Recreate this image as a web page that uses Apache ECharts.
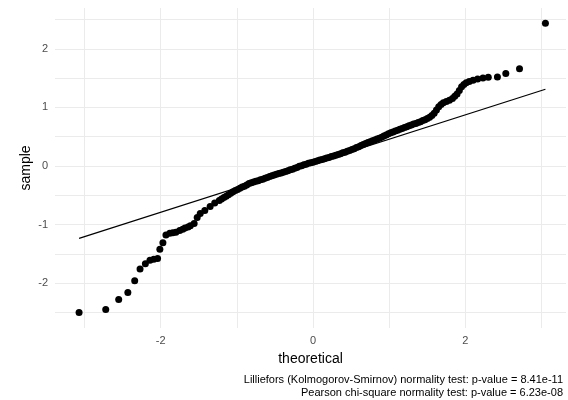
<!DOCTYPE html>
<html>
<head>
<meta charset="utf-8">
<script src="https://cdn.jsdelivr.net/npm/echarts@6/dist/echarts.min.js"></script>
<style>
  html, body { margin: 0; padding: 0; background: #fff; }
  #chart { width: 568px; height: 400px; }
</style>
</head>
<body>
<div id="chart"></div>
<script>
// theoretical quantiles (x) and sample values (y)
const theoretical = [
  -3.07, -2.72, -2.55, -2.43, -2.34, -2.27, -2.20, -2.14, -2.09, -2.04,
  -2.01, -1.97, -1.93, -1.88, -1.84, -1.80, -1.75, -1.71, -1.68, -1.64,
  -1.61, -1.56, -1.52, -1.48, -1.42, -1.35, -1.29,
  -1.23, -1.20, -1.17, -1.14, -1.11, -1.08, -1.05, -1.02, -0.99, -0.96,
  -0.93, -0.90, -0.87, -0.84, -0.81, -0.78, -0.75, -0.72, -0.69, -0.66,
  -0.63, -0.60, -0.57, -0.54, -0.51, -0.48, -0.45, -0.42, -0.39, -0.36,
  -0.33, -0.30, -0.27, -0.24, -0.21, -0.18, -0.15, -0.12, -0.09, -0.06,
  -0.03, 0.00, 0.03, 0.06, 0.09, 0.12, 0.15, 0.18, 0.21, 0.24,
  0.27, 0.30, 0.33, 0.36, 0.39, 0.42, 0.45, 0.48, 0.51, 0.54,
  0.57, 0.60, 0.63, 0.66, 0.69, 0.72, 0.75, 0.78, 0.81, 0.84,
  0.87, 0.90, 0.93, 0.96, 0.99, 1.02, 1.05, 1.08, 1.11, 1.14,
  1.17, 1.20, 1.23, 1.26, 1.29, 1.32, 1.35, 1.38, 1.41, 1.44,
  1.47, 1.50, 1.53,
  1.56, 1.59, 1.62, 1.65, 1.68, 1.71, 1.75, 1.79, 1.83, 1.86,
  1.89, 1.92, 1.95, 1.98, 2.01, 2.05, 2.10, 2.16, 2.23, 2.30,
  2.42, 2.53, 2.71, 3.05
];
const sample = [
  -2.50, -2.45, -2.28, -2.16, -1.96, -1.76, -1.67, -1.61, -1.59, -1.58,
  -1.42, -1.31, -1.18, -1.15, -1.14, -1.13, -1.10, -1.08, -1.06, -1.04,
  -1.02, -0.98, -0.88, -0.81, -0.76, -0.69, -0.63,
  -0.59, -0.565, -0.54, -0.515, -0.49, -0.465, -0.44, -0.42, -0.40, -0.38,
  -0.36, -0.345, -0.325, -0.30, -0.285, -0.275, -0.26, -0.25, -0.235, -0.225,
  -0.21, -0.195, -0.18, -0.165, -0.155, -0.14, -0.13, -0.12, -0.108, -0.095,
  -0.08, -0.065, -0.055, -0.04, -0.025, -0.005, 0.005, 0.02, 0.03, 0.045,
  0.055, 0.065, 0.078, 0.09, 0.10, 0.11, 0.125, 0.135, 0.145, 0.16,
  0.17, 0.185, 0.195, 0.21, 0.225, 0.235, 0.25, 0.265, 0.28, 0.295,
  0.315, 0.33, 0.35, 0.365, 0.385, 0.40, 0.415, 0.43, 0.445, 0.46,
  0.475, 0.49, 0.51, 0.53, 0.55, 0.565, 0.58, 0.595, 0.61, 0.625,
  0.64, 0.655, 0.67, 0.685, 0.70, 0.715, 0.725, 0.74, 0.755, 0.775,
  0.79, 0.81, 0.83,
  0.86, 0.90, 0.955, 1.01, 1.05, 1.08, 1.10, 1.12, 1.15, 1.19,
  1.23, 1.29, 1.35, 1.39, 1.42, 1.44, 1.465, 1.485, 1.50, 1.515,
  1.52, 1.58, 1.66, 2.435
];

// reference line endpoints
const lineX = [-3.07, 3.05];
const lineY = [-1.235, 1.31];

// tick labels and grid lines
const xTicks = [-2, 0, 2];
const yTicks = [-2, -1, 0, 1, 2];
const xGrid = [-3, -2, -1, 0, 1, 2, 3];
const yGrid = [-2.5, -2, -1.5, -1, -0.5, 0, 0.5, 1, 1.5, 2, 2.5];

const caption = [
  'Lilliefors (Kolmogorov-Smirnov) normality test: p-value = 8.41e-11',
  'Pearson chi-square normality test: p-value = 6.23e-08'
];

const points = theoretical.map((x, i) => [x, sample[i]]);

const font = '"Liberation Sans", Arial, Helvetica, sans-serif';
const gridColor = '#EBEBEB';

const chart = echarts.init(document.getElementById('chart'), null, { renderer: 'canvas' });

const gridLines = xGrid.map(v => ({ xAxis: v })).concat(yGrid.map(v => ({ yAxis: v })));
const refLine = [[
  { coord: [lineX[0], lineY[0]], lineStyle: { color: '#000', width: 1.2 } },
  { coord: [lineX[1], lineY[1]] }
]];

const options = {
  animation: false,
  backgroundColor: '#fff',
  grid: { left: 55, right: 2, top: 8, bottom: 72, containLabel: false },
  xAxis: {
    type: 'value',
    min: -3.386,
    max: 3.32,
    name: 'theoretical',
    nameLocation: 'middle',
    nameGap: 24,
    nameMoveOverlap: false,
    nameTextStyle: { fontFamily: font, fontSize: 14, color: '#000' },
    axisLine: { show: false },
    axisTick: { show: false },
    splitLine: { show: false },
    axisLabel: {
      customValues: xTicks,
      fontFamily: font, fontSize: 11, color: '#4D4D4D', margin: 7
    }
  },
  yAxis: {
    type: 'value',
    min: -2.765,
    max: 2.696,
    name: 'sample',
    nameLocation: 'middle',
    nameGap: 22,
    nameMoveOverlap: false,
    nameRotate: 90,
    nameTextStyle: { fontFamily: font, fontSize: 14, color: '#000' },
    axisLine: { show: false },
    axisTick: { show: false },
    splitLine: { show: false },
    axisLabel: {
      customValues: yTicks,
      fontFamily: font, fontSize: 11, color: '#4D4D4D', margin: 7
    }
  },
  series: [
    {
      // panel grid lines and the reference line
      type: 'scatter',
      data: [],
      z: 1,
      silent: true,
      markLine: {
        silent: true,
        symbol: ['none', 'none'],
        label: { show: false },
        emphasis: { disabled: true },
        lineStyle: { color: gridColor, width: 1, type: 'solid' },
        data: gridLines.concat(refLine)
      }
    },
    {
      type: 'scatter',
      data: points,
      z: 5,
      symbolSize: 7,
      itemStyle: { color: '#000', opacity: 1 }
    }
  ],
  graphic: caption.map((t, i) => ({
    type: 'text',
    right: 5,
    top: 374 + i * 13,
    style: {
      text: t,
      font: '11px ' + font,
      fill: '#000'
    }
  }))
};

chart.setOption(options);
</script>
</body>
</html>
